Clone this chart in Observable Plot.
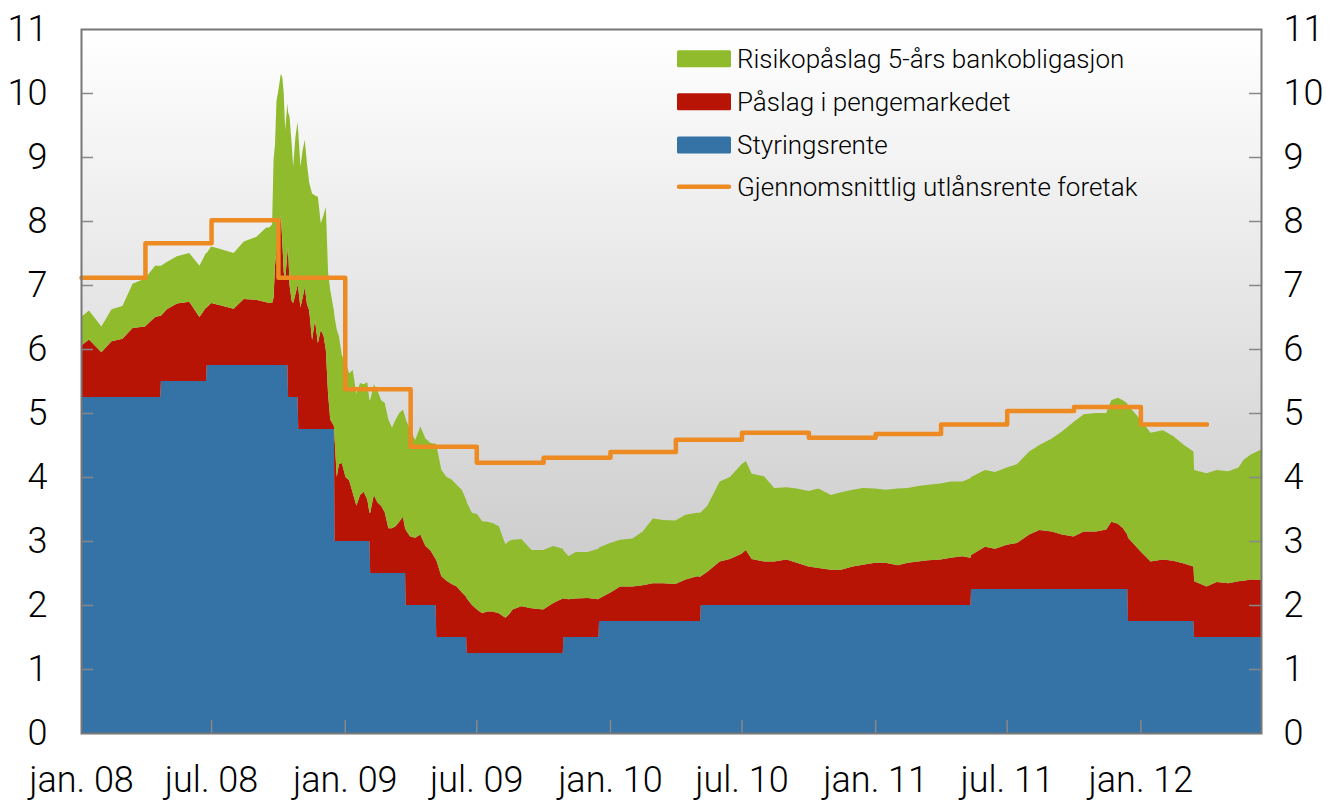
<!DOCTYPE html>
<html>
<head>
<meta charset="utf-8">
<script src="https://cdn.jsdelivr.net/npm/d3@7"></script>
<script src="https://cdn.jsdelivr.net/npm/@observablehq/plot@0.6"></script>
<style>
  html, body { margin: 0; padding: 0; background: #ffffff; }
  #chart { width: 1337px; height: 802px; }
</style>
</head>
<body>
<div id="chart"></div>
<script>
// ---- Series names (legend order top to bottom) ----
const seriesNames = ["Risikopåslag 5-års bankobligasjon", "Påslag i pengemarkedet", "Styringsrente"];
const lineName = "Gjennomsnittlig utlånsrente foretak";

// ---- Sample dates ----
const dates = [
  "2008-01-04","2008-01-15","2008-02-01","2008-02-15","2008-03-01","2008-03-15","2008-04-01","2008-04-15","2008-04-22","2008-04-23",
  "2008-05-01","2008-05-15","2008-06-01","2008-06-15","2008-06-24","2008-06-25","2008-07-01","2008-07-15","2008-08-01","2008-08-15",
  "2008-09-01","2008-09-15","2008-09-19","2008-09-23","2008-09-25","2008-09-27","2008-09-29","2008-10-01","2008-10-03","2008-10-05",
  "2008-10-07","2008-10-09","2008-10-11","2008-10-14","2008-10-15","2008-10-17","2008-10-20","2008-10-22","2008-10-25","2008-10-28",
  "2008-10-29","2008-11-01","2008-11-04","2008-11-07","2008-11-10","2008-11-13","2008-11-17","2008-11-21","2008-11-25","2008-11-29",
  "2008-12-03","2008-12-06","2008-12-09","2008-12-12","2008-12-17","2008-12-18","2008-12-21","2008-12-24","2008-12-28","2009-01-02",
  "2009-01-07","2009-01-12","2009-01-17","2009-01-22","2009-01-27","2009-02-01","2009-02-04","2009-02-05","2009-02-10","2009-02-15",
  "2009-02-20","2009-02-25","2009-03-02","2009-03-07","2009-03-12","2009-03-17","2009-03-22","2009-03-25","2009-03-26","2009-04-01",
  "2009-04-08","2009-04-15","2009-04-22","2009-04-29","2009-05-06","2009-05-07","2009-05-14","2009-05-21","2009-05-28","2009-06-04",
  "2009-06-11","2009-06-17","2009-06-18","2009-06-25","2009-07-02","2009-07-09","2009-07-16","2009-07-23","2009-08-01","2009-08-10",
  "2009-08-15","2009-08-20","2009-09-01","2009-09-15","2009-10-01","2009-10-15","2009-10-28","2009-10-29","2009-11-05","2009-11-15",
  "2009-12-01","2009-12-16","2009-12-17","2010-01-01","2010-01-15","2010-02-01","2010-02-15","2010-03-01","2010-03-15","2010-04-01",
  "2010-04-15","2010-05-01","2010-05-05","2010-05-06","2010-05-15","2010-06-01","2010-06-15","2010-07-01","2010-07-07","2010-07-15",
  "2010-08-01","2010-08-15","2010-09-01","2010-09-15","2010-10-01","2010-10-15","2010-11-01","2010-11-15","2010-12-01","2010-12-15",
  "2011-01-01","2011-01-15","2011-02-01","2011-02-15","2011-03-01","2011-03-15","2011-04-01","2011-04-15","2011-05-01","2011-05-12",
  "2011-05-13","2011-06-01","2011-06-15","2011-07-01","2011-07-15","2011-08-01","2011-08-15","2011-09-01","2011-09-15","2011-10-01",
  "2011-10-15","2011-11-01","2011-11-15","2011-11-22","2011-12-01","2011-12-08","2011-12-14","2011-12-15","2012-01-01","2012-01-15",
  "2012-02-01","2012-02-15","2012-03-01","2012-03-14","2012-03-15","2012-04-01","2012-04-15","2012-05-01","2012-05-15","2012-05-22",
  "2012-06-01","2012-06-15"
];

// ---- Styringsrente (policy rate) ----
const styringsrente = [
  5.25,5.25,5.25,5.25,5.25,5.25,5.25,5.25,5.25,5.5,
  5.5,5.5,5.5,5.5,5.5,5.75,5.75,5.75,5.75,5.75,
  5.75,5.75,5.75,5.75,5.75,5.75,5.75,5.75,5.75,5.75,
  5.75,5.75,5.75,5.75,5.25,5.25,5.25,5.25,5.25,5.25,
  4.75,4.75,4.75,4.75,4.75,4.75,4.75,4.75,4.75,4.75,
  4.75,4.75,4.75,4.75,4.75,3,3,3,3,3,
  3,3,3,3,3,3,3,2.5,2.5,2.5,
  2.5,2.5,2.5,2.5,2.5,2.5,2.5,2.5,2,2,
  2,2,2,2,2,1.5,1.5,1.5,1.5,1.5,
  1.5,1.5,1.25,1.25,1.25,1.25,1.25,1.25,1.25,1.25,
  1.25,1.25,1.25,1.25,1.25,1.25,1.25,1.5,1.5,1.5,
  1.5,1.5,1.75,1.75,1.75,1.75,1.75,1.75,1.75,1.75,
  1.75,1.75,1.75,2,2,2,2,2,2,2,
  2,2,2,2,2,2,2,2,2,2,
  2,2,2,2,2,2,2,2,2,2,
  2.25,2.25,2.25,2.25,2.25,2.25,2.25,2.25,2.25,2.25,
  2.25,2.25,2.25,2.25,2.25,2.25,2.25,1.75,1.75,1.75,
  1.75,1.75,1.75,1.75,1.5,1.5,1.5,1.5,1.5,1.5,
  1.5,1.5
];

// ---- Påslag i pengemarkedet (money market premium) ----
const pengemarked = [
  0.80,0.90,0.70,0.87,0.91,1.08,1.10,1.25,1.27,1.02,
  1.12,1.21,1.24,1.00,1.15,0.90,0.97,0.93,0.88,1.03,
  1.02,0.98,0.97,0.97,1.05,1.55,1.80,1.95,2.10,2.34,
  1.95,1.45,1.33,1.75,2.35,1.75,1.50,1.47,1.60,1.75,
  2.20,1.90,2.05,2.22,1.95,1.86,1.39,1.70,1.34,1.55,
  1.45,1.23,0.55,0.15,0.05,1.60,1.00,1.20,1.22,1.00,
  0.95,0.75,0.55,0.72,0.77,0.65,0.44,0.94,1.22,1.10,
  1.05,0.95,0.70,0.70,0.73,0.80,0.88,0.70,1.17,1.07,
  1.05,1.10,0.92,0.85,0.72,1.20,0.95,0.88,0.83,0.79,
  0.70,0.63,0.85,0.75,0.68,0.62,0.65,0.65,0.62,0.55,
  0.60,0.68,0.73,0.70,0.68,0.78,0.85,0.60,0.59,0.60,
  0.61,0.59,0.35,0.44,0.54,0.54,0.56,0.59,0.59,0.58,
  0.65,0.70,0.69,0.45,0.52,0.68,0.72,0.80,0.86,0.72,
  0.68,0.68,0.71,0.66,0.60,0.58,0.55,0.55,0.60,0.63,
  0.66,0.66,0.62,0.66,0.68,0.70,0.71,0.74,0.76,0.74,
  0.53,0.66,0.63,0.69,0.72,0.85,0.92,0.90,0.85,0.82,
  0.90,0.90,0.93,1.05,1.02,0.95,0.85,1.30,1.09,0.93,
  0.96,0.94,0.90,0.85,0.87,0.79,0.86,0.84,0.87,0.88,
  0.90,0.89
];

// ---- Risikopåslag 5-års bankobligasjon (bond risk premium) ----
const risikopaaslag = [
  0.45,0.45,0.40,0.50,0.51,0.69,0.75,0.80,0.78,0.78,
  0.74,0.74,0.76,0.80,0.85,0.85,0.88,0.88,0.87,0.90,
  0.98,1.17,1.18,1.23,2.15,1.90,2.32,2.30,2.30,2.21,
  2.55,2.80,2.34,2.34,2.10,2.63,2.45,2.13,2.45,2.55,
  2.45,2.20,2.30,2.30,2.20,1.99,2.29,1.95,2.29,1.66,
  1.90,2.24,1.90,2.02,1.80,1.90,2.30,2.00,1.68,1.80,
  1.67,1.92,1.75,1.75,1.68,1.83,1.76,1.76,1.73,1.75,
  1.65,1.71,1.70,1.57,1.67,1.70,1.67,1.75,1.73,1.67,
  1.53,1.69,1.68,1.68,1.80,1.80,1.66,1.62,1.63,1.59,
  1.60,1.52,1.50,1.44,1.49,1.44,1.40,1.38,1.36,1.15,
  1.15,1.09,1.05,0.91,0.93,0.89,0.78,0.75,0.67,0.73,
  0.72,0.79,0.80,0.78,0.73,0.75,0.84,1.01,0.99,0.99,
  1.01,0.99,1.00,1.00,1.03,1.25,1.28,1.40,1.39,1.33,
  1.33,1.15,1.13,1.16,1.18,1.24,1.17,1.21,1.20,1.20,
  1.16,1.14,1.20,1.17,1.18,1.18,1.19,1.19,1.17,1.24,
  1.22,1.20,1.20,1.21,1.23,1.30,1.33,1.45,1.61,1.79,
  1.83,1.85,1.82,1.90,1.97,2.00,2.05,2.07,2.06,2.01,
  2.02,1.95,1.85,1.80,1.74,1.77,1.75,1.75,1.78,1.89,
  1.95,2.04
];

// ---- Gjennomsnittlig utlånsrente foretak (quarterly) ----
const kvartalDates = [
  "2008-01-04","2008-04-01","2008-07-01","2008-10-01","2009-01-01","2009-04-01","2009-07-01","2009-10-01","2010-01-01",
  "2010-04-01","2010-07-01","2010-10-01","2011-01-01","2011-04-01","2011-07-01","2011-10-01","2012-01-01","2012-04-01"
];
const utlaansrente = [7.12,7.66,8.02,7.12,5.38,4.48,4.23,4.31,4.40,4.59,4.70,4.62,4.68,4.83,5.04,5.10,4.83,4.83];

// ---- Axis ticks ----
const yTicks = [0,1,2,3,4,5,6,7,8,9,10,11];
const xTickDates = ["2008-01-04","2008-07-01","2009-01-01","2009-07-01","2010-01-01","2010-07-01","2011-01-01","2011-07-01","2012-01-01"];
const xTickLabels = ["jan. 08","jul. 08","jan. 09","jul. 09","jan. 10","jul. 10","jan. 11","jul. 11","jan. 12"];

// ---- Colours ----
const colors = {
  "Styringsrente": "#3572a6",
  "Påslag i pengemarkedet": "#b71405",
  "Risikopåslag 5-års bankobligasjon": "#8fbb2c"
};
const orange = "#ee8a22";

// ---- Build tables ----
const parse = s => new Date(s + "T00:00:00Z");
const rows = [];
dates.forEach((d, i) => {
  const date = parse(d);
  rows.push({date, series: "Styringsrente", value: styringsrente[i]});
  rows.push({date, series: "Påslag i pengemarkedet", value: pengemarked[i]});
  rows.push({date, series: "Risikopåslag 5-års bankobligasjon", value: risikopaaslag[i]});
});
const lineRows = kvartalDates.map((d, i) => ({date: parse(d), value: utlaansrente[i]}));
const xTicks = xTickDates.map(parse);
const labelByTime = new Map(xTicks.map((d, i) => [+d, xTickLabels[i]]));

const W = 1337, H = 802, mL = 81, mR = 76, mT = 29, mB = 69;
const frameW = W - mL - mR, frameH = H - mT - mB;
const FONT = "Roboto, 'Liberation Sans', sans-serif";

const chart = Plot.plot({
  width: W, height: H,
  marginLeft: mL, marginRight: mR, marginTop: mT, marginBottom: mB,
  style: {fontFamily: FONT, fontSize: "36px", fontWeight: 300, color: "#000", background: "transparent"},
  x: {type: "utc", domain: [parse("2008-01-04"), parse("2012-06-15")]},
  y: {domain: [0, 11]},
  color: {domain: ["Styringsrente", "Påslag i pengemarkedet", "Risikopåslag 5-års bankobligasjon"],
          range: [colors["Styringsrente"], colors["Påslag i pengemarkedet"], colors["Risikopåslag 5-års bankobligasjon"]]},
  marks: [
    Plot.frame({fill: "url(#bgGrad)", stroke: null}),
    Plot.areaY(rows, {x: "date", y: "value", z: "series", fill: "series", order: null, curve: "linear"}),
    Plot.lineY(lineRows, {x: "date", y: "value", curve: "step-after", stroke: orange, strokeWidth: 4.5, strokeLinejoin: "round", strokeLinecap: "round"}),
    Plot.ruleY(yTicks.slice(1, -1), {stroke: "#888", strokeWidth: 1.5, insetRight: frameW - 12}),
    Plot.ruleY(yTicks.slice(1, -1), {stroke: "#888", strokeWidth: 1.5, insetLeft: frameW - 12}),
    Plot.ruleX(xTicks.slice(1), {stroke: "#888", strokeWidth: 1.5, insetTop: frameH - 13}),
    Plot.frame({stroke: "#777", strokeWidth: 2}),
    Plot.axisY(yTicks, {anchor: "left", tickSize: 0, tickPadding: 34, label: null, fontSize: 36, tickFormat: d => String(d)}),
    Plot.axisY(yTicks, {anchor: "right", tickSize: 0, tickPadding: 22, label: null, fontSize: 36, tickFormat: d => String(d)}),
    Plot.axisX(xTicks, {anchor: "bottom", tickSize: 0, tickPadding: 33, label: null, fontSize: 36,
      tickFormat: d => labelByTime.get(+d)})
  ]
});

// gradient background for the plot frame
const svg = d3.select(chart);
const defs = svg.insert("defs", ":first-child");
const grad = defs.append("linearGradient").attr("id", "bgGrad").attr("x1", 0).attr("y1", 0).attr("x2", 0).attr("y2", 1);
grad.append("stop").attr("offset", "0%").attr("stop-color", "#ffffff");
grad.append("stop").attr("offset", "100%").attr("stop-color", "#bdbdbd");

// legend (inside plot, top right)
const legendItems = [
  {label: seriesNames[0], color: colors[seriesNames[0]], kind: "rect"},
  {label: seriesNames[1], color: colors[seriesNames[1]], kind: "rect"},
  {label: seriesNames[2], color: colors[seriesNames[2]], kind: "rect"},
  {label: lineName, color: orange, kind: "line"}
];
const lg = svg.append("g").attr("font-family", FONT).attr("font-size", 26).attr("font-weight", 300).attr("text-anchor", "start");
const rowY = [58.7, 101.7, 145, 186.7];
legendItems.forEach((it, i) => {
  const y = rowY[i];
  if (it.kind === "rect") {
    lg.append("rect").attr("x", 677).attr("y", y - 8.5).attr("width", 54).attr("height", 17).attr("rx", 1.5).attr("fill", it.color);
  } else {
    lg.append("line").attr("x1", 679).attr("x2", 729).attr("y1", y).attr("y2", y)
      .attr("stroke", it.color).attr("stroke-width", 4.5).attr("stroke-linecap", "round");
  }
  lg.append("text").attr("x", 737).attr("y", y).attr("dy", "0.35em").attr("fill", "#000").text(it.label);
});

document.getElementById("chart").appendChild(chart);
</script>
</body>
</html>
